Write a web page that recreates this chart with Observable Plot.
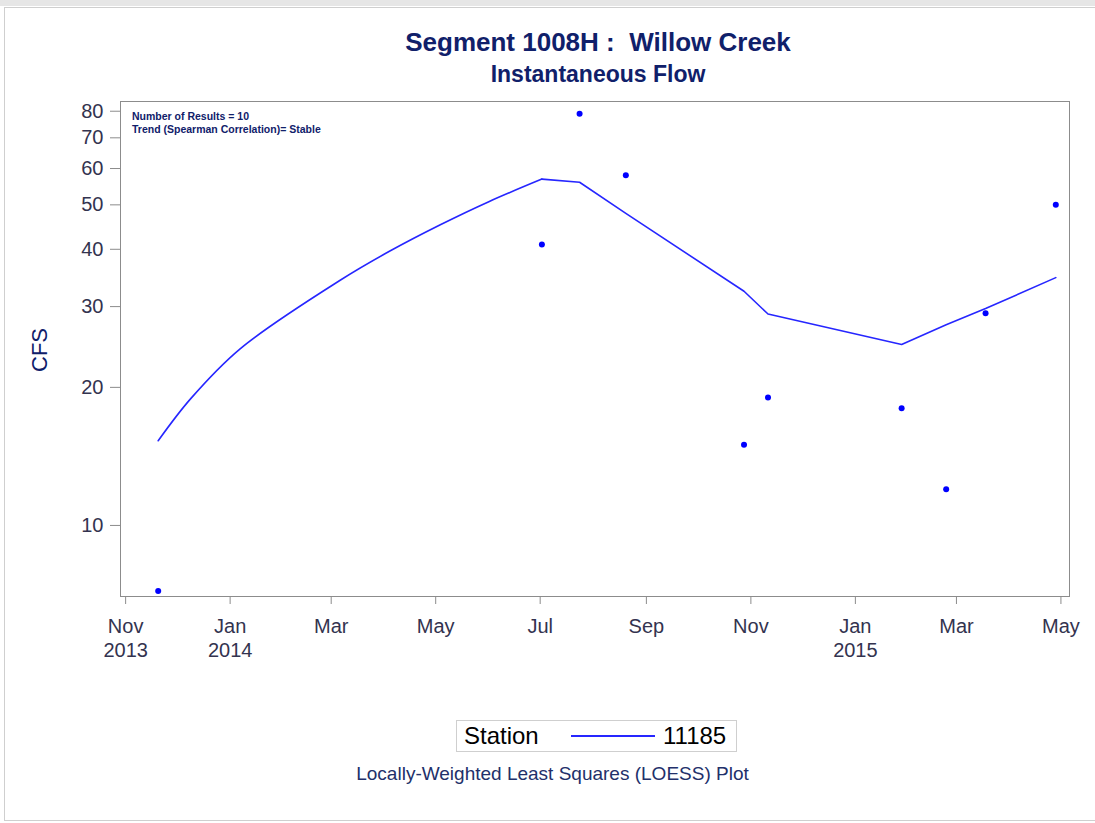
<!DOCTYPE html>
<html>
<head>
<meta charset="utf-8">
<script src="https://cdn.jsdelivr.net/npm/d3@7"></script>
<script src="https://cdn.jsdelivr.net/npm/@observablehq/plot@0.6"></script>
<style>
  body { margin: 0; background: #fff; }
  #wrap { position: relative; width: 1095px; height: 823px; font-family: "Liberation Sans", Arial, sans-serif; overflow: hidden; }
  .abs { position: absolute; }
</style>
</head>
<body>
<div id="wrap">
  <div class="abs" style="left:0;top:0;width:1095px;height:6px;background:#e6e6e6;"></div>
  <div class="abs" style="left:4px;top:7px;width:1100px;height:812px;border:1px solid #cfcfcf;"></div>
  <div id="chart" class="abs" style="left:0;top:0;"></div>
  <div id="title" class="abs" style="left:0;top:27px;width:1196px;text-align:center;font-size:26px;font-weight:bold;color:#10206a;white-space:pre;"></div>
  <div id="subtitle" class="abs" style="left:0;top:61px;width:1196px;text-align:center;font-size:23px;font-weight:bold;color:#10206a;"></div>
  <div id="note" class="abs" style="left:132px;top:110px;font-size:10.5px;font-weight:bold;color:#10206a;line-height:13px;"></div>
  <div id="ylabel" class="abs" style="left:40px;top:350px;transform:translate(-50%,-50%) rotate(-90deg);font-size:22px;color:#10206a;"></div>
  <div id="legend" class="abs" style="left:456px;top:720px;width:279px;height:30px;border:1px solid #cfcfcf;font-size:24px;color:#000;"></div>
  <div id="caption" class="abs" style="left:0;top:763px;width:1105px;text-align:center;font-size:19px;color:#22306a;"></div>
</div>
<script>
// ---- Data ----
const titleText = "Segment 1008H :  Willow Creek";
const subtitleText = "Instantaneous Flow";
const noteLines = ["Number of Results = 10", "Trend (Spearman Correlation)= Stable"];
const yLabel = "CFS";
const legendTitle = "Station";
const stationName = "11185";
const captionText = "Locally-Weighted Least Squares (LOESS) Plot";

const sampleDates = ["2013-11-20","2014-07-02","2014-07-24","2014-08-20","2014-10-28","2014-11-11","2015-01-28","2015-02-23","2015-03-18","2015-04-28"];
const sampleFlows = [7.2, 41, 79, 58, 15, 19, 18, 12, 29, 50];

// LOESS fit: smooth rising part, then piecewise segments
const loessRiseDates = ["2013-11-20","2013-12-09","2014-01-07","2014-03-06","2014-04-04","2014-05-04","2014-06-01","2014-07-02"];
const loessRiseFlows = [15.3, 18.9, 24.3, 34.2, 39.6, 45.3, 50.8, 56.9];
const loessTailDates = ["2014-07-02","2014-07-24","2014-08-20","2014-10-28","2014-11-11","2015-01-28","2015-02-23","2015-03-18","2015-04-28"];
const loessTailFlows = [56.9, 56.0, 47.9, 32.4, 28.9, 24.8, 27.4, 29.7, 34.7];

const yTicks = [10, 20, 30, 40, 50, 60, 70, 80];
const xTicks = ["2013-11-01","2014-01-01","2014-03-01","2014-05-01","2014-07-01","2014-09-01","2014-11-01","2015-01-01","2015-03-01","2015-05-01"];
const monthNames = ["Jan","Feb","Mar","Apr","May","Jun","Jul","Aug","Sep","Oct","Nov","Dec"];
const xDomain = ["2013-10-29","2015-05-06"];
const yDomain = [7, 84];

// ---- Build ----
const points = sampleDates.map((d, i) => ({date: new Date(d), flow: sampleFlows[i]}));
const rise = loessRiseDates.map((d, i) => ({date: new Date(d), flow: loessRiseFlows[i]}));
const tail = loessTailDates.map((d, i) => ({date: new Date(d), flow: loessTailFlows[i]}));
const tickDates = xTicks.map(d => new Date(d));

function fmtTick(d) {
  const m = d.getUTCMonth();
  const label = monthNames[m];
  const first = d.getTime() === tickDates[0].getTime();
  return (m === 0 || first) ? label + "\n" + d.getUTCFullYear() : label;
}

const plot = Plot.plot({
  width: 1095,
  height: 680,
  marginLeft: 120,
  marginRight: 26,
  marginTop: 101,
  marginBottom: 84,
  style: {fontFamily: "'Liberation Sans', Arial, sans-serif", background: "transparent", overflow: "visible"},
  x: {type: "utc", domain: xDomain.map(d => new Date(d))},
  y: {type: "log", domain: yDomain},
  marks: [
    Plot.frame({stroke: "#8c8c8c"}),
    Plot.axisY({ticks: yTicks, tickFormat: d => String(d), tickSize: 10, tickPadding: 7, fontSize: 20, color: "#33334f", label: null}),
    Plot.axisX({ticks: tickDates, tickFormat: fmtTick, tickSize: 8, tickPadding: 11, fontSize: 20, lineHeight: 1.2, color: "#33334f", label: null}),
    Plot.line(rise, {x: "date", y: "flow", stroke: "#2626ff", strokeWidth: 1.6, curve: "catmull-rom"}),
    Plot.line(tail, {x: "date", y: "flow", stroke: "#2626ff", strokeWidth: 1.6}),
    Plot.dot(points, {x: "date", y: "flow", r: 3, fill: "#0000ff", stroke: "none"})
  ]
});
document.getElementById("chart").appendChild(plot);
plot.querySelectorAll('[aria-label="y-axis tick"] path, [aria-label="x-axis tick"] path, [aria-label="y-axis tick"], [aria-label="x-axis tick"]').forEach(el => el.setAttribute("stroke", "#8c8c8c"));

document.getElementById("title").textContent = titleText;
document.getElementById("subtitle").textContent = subtitleText;
document.getElementById("note").innerHTML = noteLines.map(s => `<div>${s}</div>`).join("");
document.getElementById("ylabel").textContent = yLabel;
document.getElementById("caption").textContent = captionText;
document.getElementById("legend").innerHTML =
  `<span class="abs" style="left:7px;top:1px;">${legendTitle}</span>` +
  `<svg class="abs" style="left:114px;top:0" width="84" height="30"><line x1="0" x2="84" y1="15" y2="15" stroke="#2626ff" stroke-width="2"/></svg>` +
  `<span class="abs" style="left:206px;top:1px;">${stationName}</span>`;
</script>
</body>
</html>
